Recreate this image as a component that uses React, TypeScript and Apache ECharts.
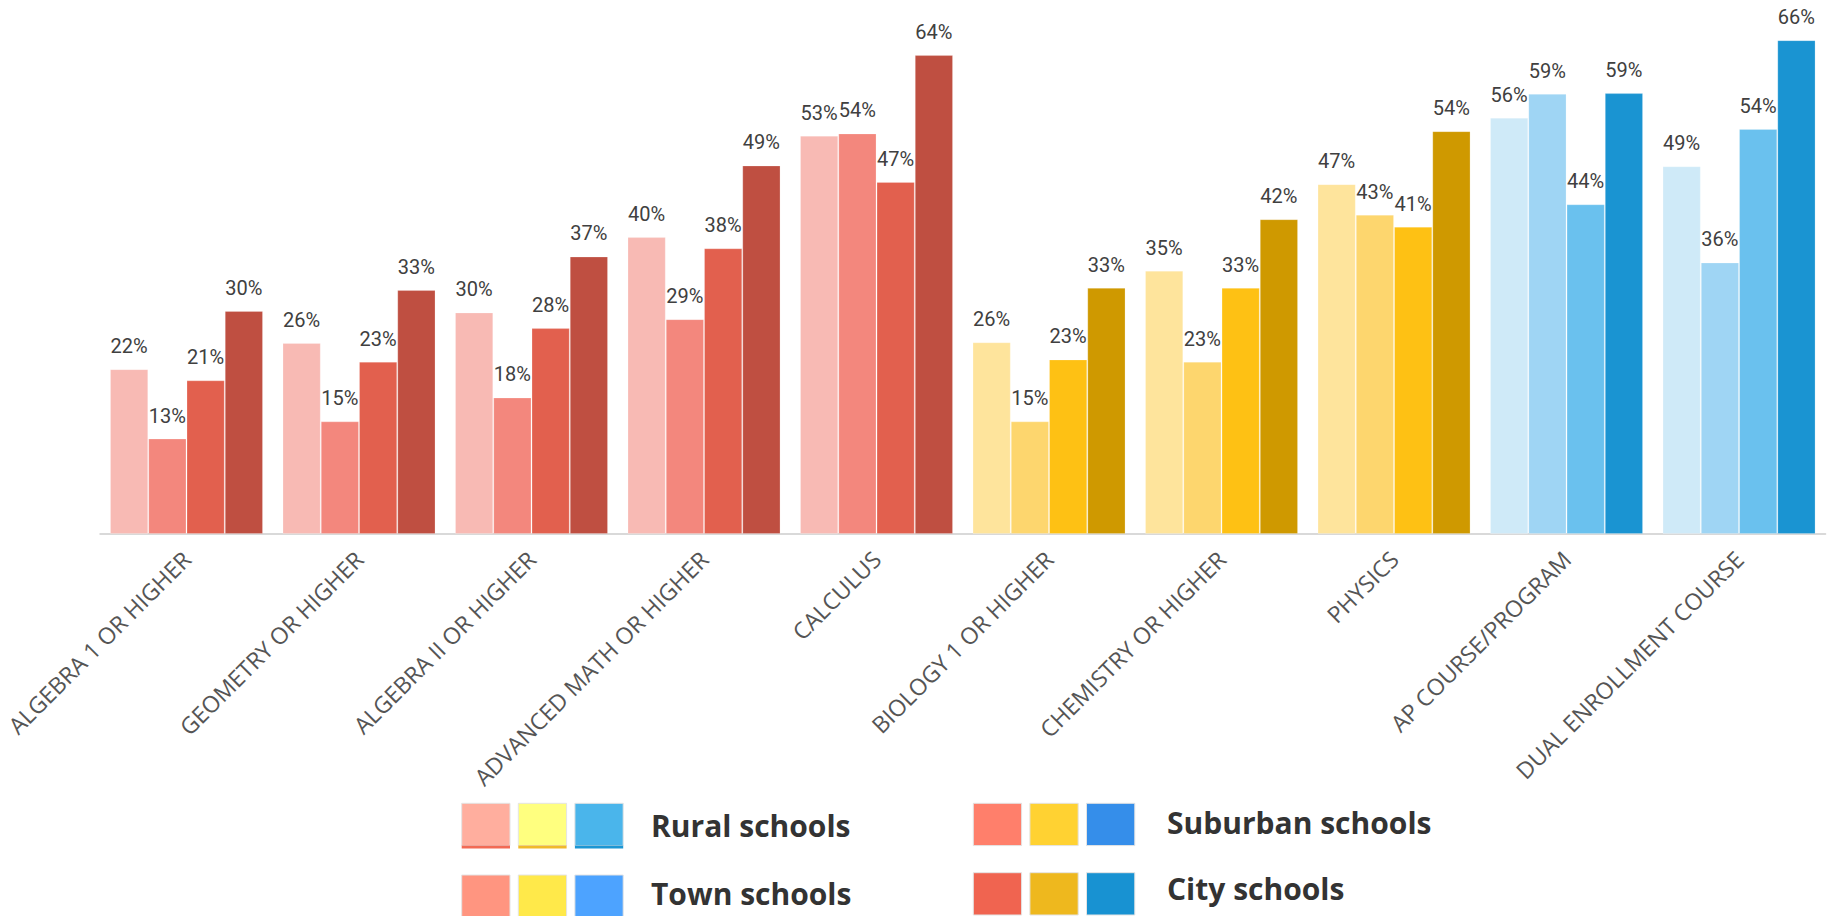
import React, { useEffect, useRef } from "react";
import * as echarts from "echarts";

const categories = [
  "ALGEBRA 1 OR HIGHER",
  "GEOMETRY OR HIGHER",
  "ALGEBRA II OR HIGHER",
  "ADVANCED MATH OR HIGHER",
  "CALCULUS",
  "BIOLOGY 1 OR HIGHER",
  "CHEMISTRY OR HIGHER",
  "PHYSICS",
  "AP COURSE/PROGRAM",
  "DUAL ENROLLMENT COURSE",
];

const seriesNames = ["Rural schools", "Town schools", "Suburban schools", "City schools"];

const rural = [22.1, 25.6, 29.7, 39.8, 53.4, 25.7, 35.3, 46.9, 55.8, 49.3];
const town = [12.8, 15.1, 18.3, 28.8, 53.7, 15.1, 23.1, 42.8, 59.0, 36.4];
const suburban = [20.6, 23.1, 27.6, 38.3, 47.2, 23.4, 33.0, 41.2, 44.2, 54.3];
const city = [29.9, 32.7, 37.2, 49.4, 64.2, 33.0, 42.2, 54.0, 59.1, 66.2];

// group of each category: 0 = math (red), 1 = science (yellow), 2 = college (blue)
const categoryGroup = [0, 0, 0, 0, 0, 1, 1, 1, 2, 2];

// bar colours per group, per series (Rural, Town, Suburban, City)
const barPalette = [
  ["#F8BAB4", "#F3877D", "#E2604E", "#BF4F41"],
  ["#FEE49C", "#FDD66E", "#FEC114", "#CF9900"],
  ["#CFEAF8", "#9FD5F4", "#6AC1EE", "#1A94D2"],
];

// legend swatch colours per series: [red, yellow, blue]
const legendSwatches = [
  ["#FFAE9E", "#FFFF7F", "#4AB5EB"],
  ["#FF9580", "#FFE94A", "#4DA3FF"],
  ["#FF7F6B", "#FFD232", "#358EEA"],
  ["#F06450", "#EEB81E", "#1892D2"],
];
const ruralStripe = ["#F26A55", "#F0B92A", "#1C96D3"];

const allSeries = [rural, town, suburban, city];

export default function App() {
  const ref = useRef<HTMLDivElement>(null);
  useEffect(() => {
    if (!ref.current) return;
    const chart = echarts.init(ref.current, undefined, { renderer: "svg" });

    const series = allSeries.map((vals, si) => ({
      name: seriesNames[si],
      type: "bar",
      barGap: "0%",
      barCategoryGap: "11.3%",
      data: vals.map((v, ci) => ({
        value: v,
        itemStyle: {
          color: barPalette[categoryGroup[ci]][si],
          borderColor: "rgba(255,255,255,0.22)",
          borderWidth: 1,
        },
      })),
      label: {
        show: true,
        position: "top",
        distance: 13,
        formatter: (p: any) => Math.round(p.value) + "%",
        color: "#404040",
        fontFamily: "Roboto",
        fontSize: 20,
      },
    }));

    // legend graphics
    const legendPos = [
      { x: 461.7, y: 803.3, ty: 825.5 },
      { x: 461.7, y: 875, ty: 893.5 },
      { x: 973.3, y: 803.3, ty: 822.5 },
      { x: 973.3, y: 872.7, ty: 888.5 },
    ];
    const textX = [651, 651, 1167, 1167];
    const graphics: any[] = [];
    seriesNames.forEach((name, i) => {
      const p = legendPos[i];
      legendSwatches[i].forEach((c, k) => {
        const sx = p.x + k * 56.6;
        graphics.push({
          type: "rect",
          shape: { x: sx, y: p.y, width: 48.3, height: 42.3 },
          style: { fill: c, stroke: "#e4e4e4", lineWidth: 1 },
        });
        if (i === 0) {
          graphics.push({
            type: "rect",
            shape: { x: sx, y: p.y + 42.3, width: 48.3, height: 3 },
            style: { fill: ruralStripe[k] },
          });
        }
      });
      graphics.push({
        type: "text",
        x: textX[i],
        y: p.ty,
        style: {
          text: name,
          fill: "#333333",
          font: "bold 30px 'Open Sans'",
          textAlign: "left",
          textVerticalAlign: "middle",
        },
      });
    });

    chart.setOption({
      animation: false,
      backgroundColor: "#ffffff",
      grid: { left: 100.25, right: 4.7, top: 11.8, bottom: 382, containLabel: false },
      xAxis: {
        type: "category",
        data: categories,
        axisLine: { show: true, lineStyle: { color: "#D9D9D9", width: 2 } },
        axisTick: { show: false },
        axisLabel: {
          rotate: 45,
          interval: 0,
          margin: 21,
          color: "#555555",
          fontFamily: "'Open Sans'",
          fontSize: 23,
        },
      },
      yAxis: {
        type: "value",
        min: 0,
        max: 70,
        show: false,
        splitLine: { show: false },
      },
      series,
      graphic: graphics,
    });
    return () => chart.dispose();
  }, []);
  return (
    <div
      ref={ref}
      style={{ position: "fixed", left: 0, top: 0, width: 1830, height: 916, background: "#fff" }}
    />
  );
}
